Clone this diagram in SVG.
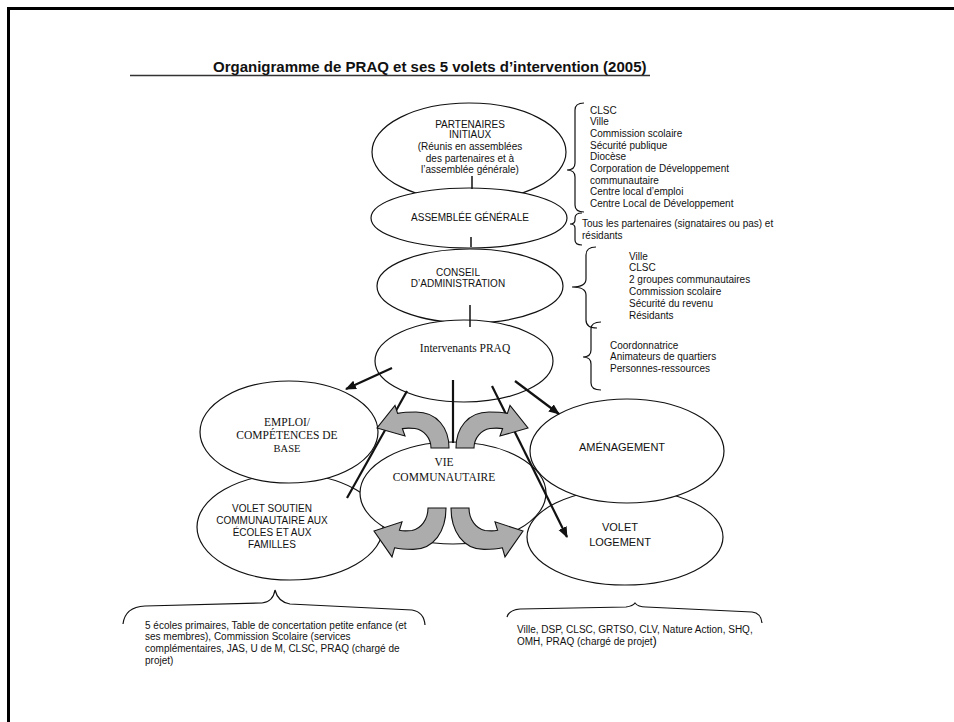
<svg xmlns="http://www.w3.org/2000/svg" xmlns:xlink="http://www.w3.org/1999/xlink" width="954" height="722" viewBox="0 0 954 722">
<style>
.sans{font-family:"Liberation Sans",Arial,sans-serif;fill:#111}
.serif{font-family:"Liberation Serif","Times New Roman",serif;fill:#111}
.s10{font-size:10px}
.s11{font-size:11px}
.ser{font-size:11.5px}
.ell{fill:#fff;stroke:#111;stroke-width:1.2}
.tick{stroke:#111;stroke-width:1.5;fill:none}
.brace{fill:none;stroke:#111;stroke-width:1.2}
.con{stroke:#111;stroke-width:2.2;fill:none}
.cyc{fill:#acacac;stroke:#111;stroke-width:1.1;vector-effect:non-scaling-stroke}
</style>
<defs>
<marker id="ah" markerUnits="userSpaceOnUse" markerWidth="12" markerHeight="10" refX="10" refY="4.5" orient="auto">
<path d="M0,0 L11,4.5 L0,9 z" fill="#111"/>
</marker>
<path id="cycArrow" class="cyc" d="M 431,448 L 449,448 C 449,428 437,412 416,412 C 408,412 402,412.5 397.6,413.4 L 395,405.5 L 377,428 L 405,436 L 402.4,428.6 C 406,428 410,428 415,428.5 C 424,430 431,438 431,448 Z"/>
</defs>
<rect width="954" height="722" fill="#fff"/>
<path d="M 8.5,722 L 8.5,8.5 L 954,8.5" fill="none" stroke="#000" stroke-width="3"/>

<g id="title">
<text class="sans" x="213" y="72" font-size="15" font-weight="bold">Organigramme de PRAQ et ses 5 volets d’intervention (2005)</text>
<line x1="130" y1="75.5" x2="650" y2="75.5" stroke="#333" stroke-width="1.3"/>
</g>

<g id="partenaires">
<ellipse class="ell" cx="469" cy="152" rx="97" ry="49"/>
<text class="sans s10" text-anchor="middle" x="470"><tspan x="470" y="127.8">PARTENAIRES</tspan><tspan x="470" y="137.8">INITIAUX</tspan><tspan x="470" y="150">(Réunis en assemblées</tspan><tspan x="470" y="161.5">des partenaires et à</tspan><tspan x="470" y="173">l’assemblée générale)</tspan></text>
</g>

<g id="assemblee">
<ellipse class="ell" cx="469" cy="218" rx="98" ry="30"/>
<text class="sans s10" text-anchor="middle" x="470" y="220.5">ASSEMBLÉE GÉNÉRALE</text>
</g>

<g id="conseil">
<ellipse class="ell" cx="470" cy="286" rx="93" ry="37"/>
<text class="sans s10" text-anchor="middle"><tspan x="458" y="275.5">CONSEIL</tspan><tspan x="458" y="287">D’ADMINISTRATION</tspan></text>
</g>

<g id="intervenants">
<ellipse class="ell" cx="464" cy="361" rx="89" ry="41"/>
<text class="serif ser" text-anchor="middle" x="465" y="352">Intervenants PRAQ</text>
</g>

<g id="ticks">
<line class="tick" x1="472" y1="176" x2="472" y2="189"/>
<line class="tick" x1="471" y1="237" x2="471" y2="247"/>
<line class="tick" x1="470" y1="305" x2="470" y2="327"/>
</g>

<g id="list-partenaires">
<path class="brace" d="M 584,103 Q 575,103 575,110 L 575,163 Q 575,170 567,170 Q 575,170 575,177 L 575,205 Q 575,212 584,212"/>
<text class="sans s10"><tspan x="590" y="113.5">CLSC</tspan><tspan x="590" y="125.2">Ville</tspan><tspan x="590" y="136.9">Commission scolaire</tspan><tspan x="590" y="148.6">Sécurité publique</tspan><tspan x="590" y="160.3">Diocèse</tspan><tspan x="590" y="172">Corporation de Développement</tspan><tspan x="590" y="183.7">communautaire</tspan><tspan x="590" y="195.4">Centre local d’emploi</tspan><tspan x="590" y="207.1">Centre Local de Développement</tspan></text>
</g>

<g id="list-assemblee">
<path class="brace" d="M 582,213 Q 575,213 575,218 L 575,220 Q 575,224 570,224 Q 575,224 575,228 L 575,240 Q 575,245 582,245"/>
<text class="sans s10"><tspan x="582" y="227">Tous les partenaires (signataires ou pas) et</tspan><tspan x="582" y="238.7">résidants</tspan></text>
</g>

<g id="list-conseil">
<path class="brace" d="M 596,247 Q 586,247 586,255 L 586,279 Q 586,287 572,287 Q 586,287 586,295 L 586,320 Q 586,328 597,328"/>
<text class="sans s10"><tspan x="629" y="259.5">Ville</tspan><tspan x="629" y="271.3">CLSC</tspan><tspan x="629" y="283.1">2 groupes communautaires</tspan><tspan x="629" y="294.9">Commission scolaire</tspan><tspan x="629" y="306.7">Sécurité du revenu</tspan><tspan x="629" y="318.5">Résidants</tspan></text>
</g>

<g id="list-intervenants">
<path class="brace" d="M 601,322 Q 591,322 591,329 L 591,350 Q 591,357 583,357 Q 591,357 591,364 L 591,383 Q 591,390 601,390"/>
<text class="sans s10"><tspan x="610" y="348.5">Coordonnatrice</tspan><tspan x="610" y="360.2">Animateurs de quartiers</tspan><tspan x="610" y="371.9">Personnes-ressources</tspan></text>
</g>

<g id="volet-soutien">
<ellipse class="ell" cx="290" cy="527" rx="93" ry="53"/>
<text class="sans s10" text-anchor="middle"><tspan x="272" y="512">VOLET SOUTIEN</tspan><tspan x="272" y="524">COMMUNAUTAIRE AUX</tspan><tspan x="272" y="536">ÉCOLES ET AUX</tspan><tspan x="272" y="548">FAMILLES</tspan></text>
</g>

<g id="emploi">
<ellipse class="ell" cx="289" cy="432" rx="89" ry="51"/>
<text class="serif ser" text-anchor="middle"><tspan x="287" y="426">EMPLOI/</tspan><tspan x="287" y="439">COMPÉTENCES DE</tspan><tspan x="287" y="452" font-size="10.5">BASE</tspan></text>
</g>

<g id="volet-logement">
<ellipse class="ell" cx="625" cy="537" rx="98" ry="48"/>
<text class="sans s11" text-anchor="middle"><tspan x="620" y="531">VOLET</tspan><tspan x="620" y="546">LOGEMENT</tspan></text>
</g>

<g id="amenagement">
<ellipse class="ell" cx="627" cy="451" rx="97" ry="52"/>
<text class="sans s11" text-anchor="middle" x="622" y="451">AMÉNAGEMENT</text>
</g>

<g id="vie-communautaire">
<ellipse class="ell" cx="453" cy="493" rx="93" ry="51"/>
<text class="serif ser" text-anchor="middle"><tspan x="444" y="466">VIE</tspan><tspan x="444" y="481">COMMUNAUTAIRE</tspan></text>
</g>

<g id="connectors">
<line class="con" x1="392" y1="368" x2="346" y2="389" marker-end="url(#ah)"/>
<line class="con" x1="407" y1="391" x2="347" y2="498"/>
<line class="con" x1="453" y1="380" x2="453" y2="443"/>
<line class="con" x1="492" y1="386" x2="567" y2="537" marker-end="url(#ah)"/>
<line class="con" x1="515" y1="381" x2="559" y2="414" marker-end="url(#ah)"/>
</g>

<g id="cycle-arrows">
<use xlink:href="#cycArrow" href="#cycArrow"/>
<use xlink:href="#cycArrow" href="#cycArrow" transform="matrix(-1,0,0,1,905,0)"/>
<use xlink:href="#cycArrow" href="#cycArrow" transform="matrix(1,0,0,-1.15,-3,1023.2)"/>
<use xlink:href="#cycArrow" href="#cycArrow" transform="matrix(-1,0,0,-1.15,900,1023.2)"/>
</g>

<g id="list-soutien">
<path class="brace" d="M 123,624 Q 125,607 145,606 L 262,603 Q 273,602 275,590 Q 278,602 290,604 L 412,610 Q 424,612 425,625"/>
<text class="sans s10"><tspan x="145" y="628.5">5 écoles primaires, Table de concertation petite enfance (et</tspan><tspan x="145" y="640.2">ses membres), Commission Scolaire (services</tspan><tspan x="145" y="651.9">complémentaires, JAS, U de M, CLSC, PRAQ (chargé de</tspan><tspan x="145" y="663.6">projet)</tspan></text>
</g>

<g id="list-logement">
<path class="brace" d="M 507,617 Q 509,610 520,609 L 626,607 Q 633,606 635,603 Q 638,607 646,607 L 752,612 Q 761,613 762,623"/>
<text class="sans s10"><tspan x="517" y="632.5">Ville, DSP, CLSC, GRTSO, CLV, Nature Action, SHQ,</tspan><tspan x="517" y="645">OMH, PRAQ (chargé de projet</tspan><tspan font-size="13">)</tspan></text>
</g>
</svg>
